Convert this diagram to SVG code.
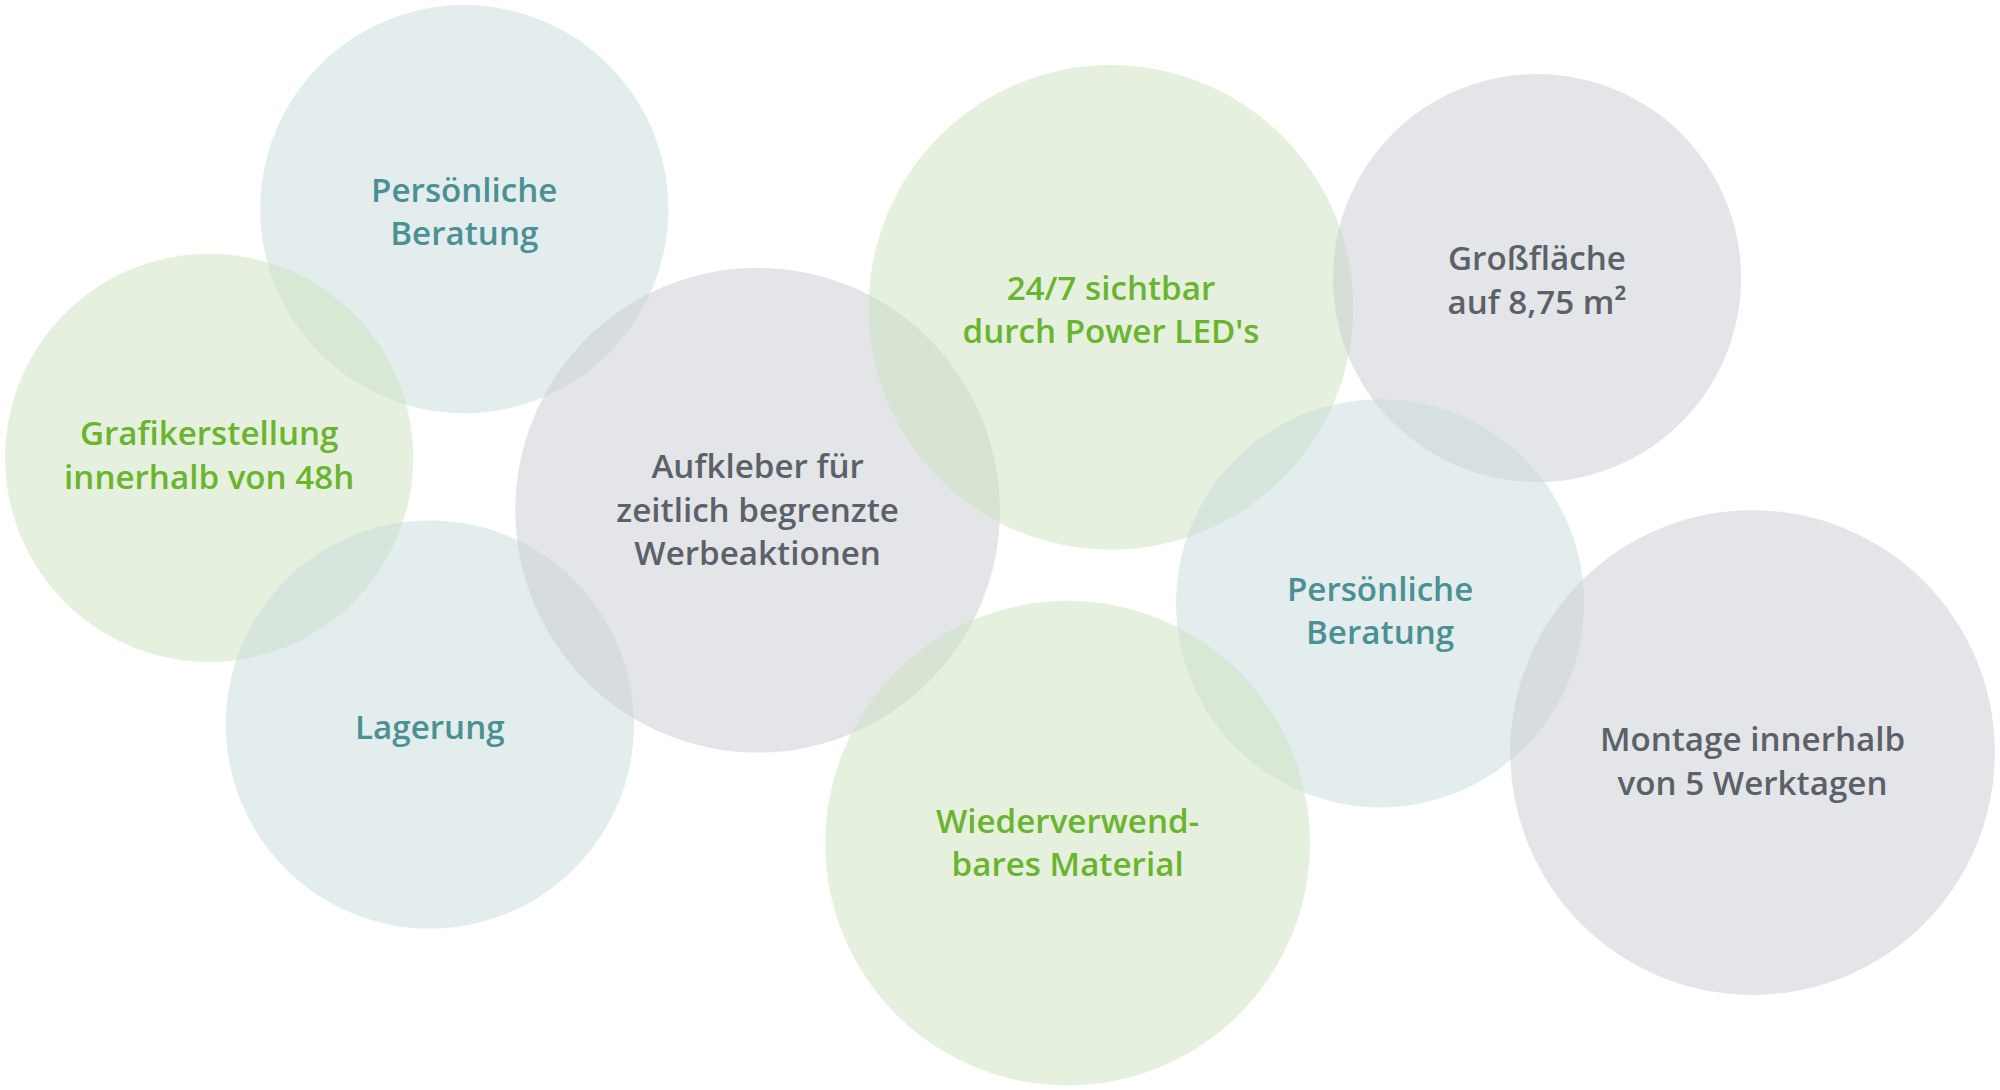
<svg xmlns="http://www.w3.org/2000/svg" width="2000" height="1090" viewBox="0 0 2000 1090">
<style>
.b{fill:#c7dbdc;fill-opacity:.5}
.g{fill:#cce3bd;fill-opacity:.5}
.k{fill:#caccd1;fill-opacity:.5}
text{font-family:"Open Sans","Liberation Sans",sans-serif;font-weight:600;font-size:26px;text-anchor:middle}
.tb{fill:#4b9093}.tg{fill:#6ab42e}.tk{fill:#5b6169}
</style>
<rect width="2000" height="1090" fill="#fff"/>
<g transform="scale(1.2755)">
<g id="n1"><circle class="b" cx="364" cy="164" r="160"/><text class="tb" x="364" y="158">Persönliche</text><text class="tb" x="364" y="192">Beratung</text></g>
<g id="n2"><circle class="g" cx="164" cy="359" r="160"/><text class="tg" x="164" y="349">Grafikerstellung</text><text class="tg" x="164" y="383">innerhalb von 48h</text></g>
<g id="n3"><circle class="b" cx="337" cy="568" r="160"/><text class="tb" x="337" y="579">Lagerung</text></g>
<g id="n4"><circle class="k" cx="594" cy="400" r="190"/><text class="tk" x="594" y="375">Aufkleber für</text><text class="tk" x="594" y="409">zeitlich begrenzte</text><text class="tk" x="594" y="443">Werbeaktionen</text></g>
<g id="n5"><circle class="g" cx="871" cy="241" r="190"/><text class="tg" x="871" y="235">24/7 sichtbar</text><text class="tg" x="871" y="269">durch Power LED's</text></g>
<g id="n6"><circle class="k" cx="1205" cy="218" r="160"/><text class="tk" x="1205" y="212">Großfläche</text><text class="tk" x="1205" y="246">auf 8,75 m²</text></g>
<g id="n7"><circle class="b" cx="1082" cy="473" r="160"/><text class="tb" x="1082" y="471">Persönliche</text><text class="tb" x="1082" y="505">Beratung</text></g>
<g id="n8"><circle class="g" cx="837" cy="661" r="190"/><text class="tg" x="837" y="653">Wiederverwend-</text><text class="tg" x="837" y="687">bares Material</text></g>
<g id="n9"><circle class="k" cx="1374" cy="590" r="190"/><text class="tk" x="1374" y="589">Montage innerhalb</text><text class="tk" x="1374" y="623">von 5 Werktagen</text></g>
</g>
<g id="connectors"/>
</svg>
